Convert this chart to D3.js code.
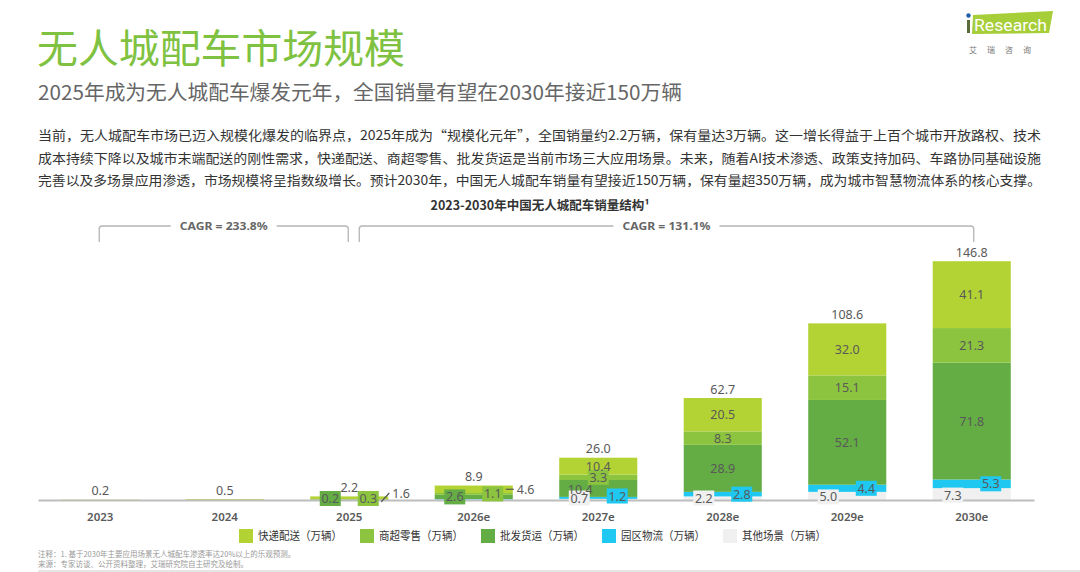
<!DOCTYPE html>
<html>
<head>
<meta charset="utf-8">
<script src="https://cdn.jsdelivr.net/npm/d3@7"></script>
<style>
  html, body { margin: 0; padding: 0; background: #fff; }
  svg { display: block; font-family: "Noto Sans CJK SC", "Noto Sans", sans-serif; }
</style>
</head>
<body>
<div id="chart"></div>
<script>
// categories and series (bottom to top of the stack)
const years = ["2023", "2024", "2025", "2026e", "2027e", "2028e", "2029e", "2030e"];
const other     = [0,   0,   0.05, 0.3, 0.7,  2.2,  5.0,  7.3];   // 其他场景
const park      = [0,   0,   0.05, 0.3, 1.2,  2.8,  4.4,  5.3];   // 园区物流
const wholesale = [0,   0,   0.2,  2.6, 10.4, 28.9, 52.1, 71.8];  // 批发货运
const retail    = [0,   0,   0.3,  1.1, 3.3,  8.3,  15.1, 21.3];  // 商超零售
const express   = [0.2, 0.5, 1.6,  4.6, 10.4, 20.5, 32.0, 41.1];  // 快递配送
const totals    = [0.2, 0.5, 2.2,  8.9, 26.0, 62.7, 108.6, 146.8];
const seriesNames = ["其他场景", "园区物流", "批发货运", "商超零售", "快递配送"];
const legendOrder = ["快递配送", "商超零售", "批发货运", "园区物流", "其他场景"];
const cagrSpans = [
  { from: "2023", to: "2025", label: "CAGR = 233.8%" },
  { from: "2025", to: "2030e", label: "CAGR = 131.1%" }
];

const colors = {
  "快递配送": "#b3d334",
  "商超零售": "#8cc43f",
  "批发货运": "#64ad45",
  "园区物流": "#1ec8f0",
  "其他场景": "#f0f0f0"
};

const paragraph = [
  "当前，无人城配车市场已迈入规模化爆发的临界点，2025年成为“规模化元年”，全国销量约2.2万辆，保有量达3万辆。这一增长得益于上百个城市开放路权、技术",
  "成本持续下降以及城市末端配送的刚性需求，快递配送、商超零售、批发货运是当前市场三大应用场景。未来，随着AI技术渗透、政策支持加码、车路协同基础设施",
  "完善以及多场景应用渗透，市场规模将呈指数级增长。预计2030年，中国无人城配车销量有望接近150万辆，保有量超350万辆，成为城市智慧物流体系的核心支撑。"
];

const W = 1080, H = 572;
const svg = d3.select("#chart").append("svg")
  .attr("width", W).attr("height", H)
  .attr("viewBox", `0 0 ${W} ${H}`);

// header
svg.append("text")
  .attr("x", 37).attr("y", 63)
  .attr("font-size", 40).attr("fill", "#7fc241")
  .attr("textLength", 368).attr("lengthAdjust", "spacingAndGlyphs")
  .text("无人城配车市场规模");

svg.append("text")
  .attr("x", 38).attr("y", 100)
  .attr("font-size", 20).attr("fill", "#666")
  .attr("textLength", 644).attr("lengthAdjust", "spacingAndGlyphs")
  .text("2025年成为无人城配车爆发元年，全国销量有望在2030年接近150万辆");

svg.append("g").selectAll("text")
  .data(paragraph)
  .join("text")
    .attr("x", 38)
    .attr("y", (d, i) => 140 + i * 22.5)
    .attr("font-size", 13).attr("fill", "#333")
    .attr("textLength", 1003).attr("lengthAdjust", "spacingAndGlyphs")
    .text(d => d);

// logo
const logo = svg.append("g");
logo.append("path")
  .attr("d", "M973,15 L1053,11 L1049,33 L972,34 Z")
  .attr("fill", "#a6ce39");
logo.append("rect").attr("x", 967).attr("y", 20).attr("width", 3).attr("height", 13).attr("fill", "#5a6b3a");
logo.append("circle").attr("cx", 968.5).attr("cy", 15.5).attr("r", 2.2).attr("fill", "#1f5fa8");
logo.append("text")
  .attr("x", 974).attr("y", 31)
  .attr("font-family", "Roboto, sans-serif").attr("font-size", 16).attr("fill", "#fff")
  .attr("textLength", 73).attr("lengthAdjust", "spacingAndGlyphs")
  .text("Research");
logo.append("text")
  .attr("x", 969).attr("y", 53)
  .attr("font-size", 8).attr("fill", "#777")
  .attr("letter-spacing", 10)
  .text("艾瑞咨询");

// chart title
svg.append("text")
  .attr("x", 540).attr("y", 210)
  .attr("text-anchor", "middle")
  .attr("font-size", 12.5).attr("font-weight", "bold").attr("fill", "#333")
  .text("2023-2030年中国无人城配车销量结构¹");

// scales
const x = d3.scaleBand()
  .domain(years)
  .range([38, 1034])
  .paddingInner(0.373)
  .paddingOuter(0.1865);
const y = d3.scaleLinear().domain([0, 150]).range([500, 256]);
const xc = d => x(d) + x.bandwidth() / 2;

// stack
const rows = years.map((yr, i) => ({
  year: yr,
  "其他场景": other[i],
  "园区物流": park[i],
  "批发货运": wholesale[i],
  "商超零售": retail[i],
  "快递配送": express[i],
  total: totals[i]
}));
const stacked = d3.stack().keys(seriesNames)(rows);

svg.append("g").selectAll("g")
  .data(stacked)
  .join("g")
    .attr("fill", d => colors[d.key])
  .selectAll("rect")
  .data(d => d)
  .join("rect")
    .attr("x", d => x(d.data.year))
    .attr("y", d => y(d[1]))
    .attr("width", x.bandwidth())
    .attr("height", d => y(d[0]) - y(d[1]));

// axis
const axis = svg.append("g")
  .attr("transform", "translate(0,500)")
  .call(d3.axisBottom(x).tickSize(0).tickPadding(13));
axis.select(".domain").attr("stroke", "#bdbdbd").attr("stroke-width", 2);
axis.selectAll("text")
  .attr("font-family", "'Noto Sans', sans-serif")
  .attr("font-size", 11.5).attr("font-weight", 600).attr("fill", "#595959");

// segment labels
const labels = [];
stacked.forEach((layer, si) => {
  layer.forEach((d, yi) => {
    const v = d[1] - d[0];
    if (yi < 2 || v <= 0) return;
    if (yi < 4 && si < 2) return;   // tiny unlabeled parts in 2025/2026
    const cx = xc(d.data.year);
    const cy = (y(d[0]) + y(d[1])) / 2;
    const key = layer.key;
    const lab = { text: v.toFixed(1), x: cx, y: cy, box: null, leader: null };
    if (key === "其他场景") { lab.x = cx - 19; lab.y = Math.min(cy + 1, 498); lab.box = colors[key]; }
    else if (key === "园区物流") { lab.x = cx + 19; lab.y = Math.min(cy, 496); lab.box = colors[key]; }
    else if (yi < 4 && key === "批发货运") { lab.x = cx - 19; lab.y = Math.min(cy, 498.5); lab.box = colors[key]; }
    else if (yi < 4 && key === "商超零售") { lab.x = cx + 19; lab.y = Math.min(cy, 498.5); lab.box = colors[key]; }
    else if (yi < 4 && key === "快递配送") {
      const right = x(d.data.year) + x.bandwidth();
      const ty = Math.min(cy, 493);
      lab.leader = [[right - 7, cy + (ty < cy ? 4 : 0)], [right + 1, ty]];
      lab.x = right + 4; lab.y = ty; lab.anchor = "start";
    }
    else if (yi === 4 && key === "批发货运") { lab.x = cx - 18; lab.y = cy + 1; }
    else if (yi === 4 && key === "商超零售") { lab.box = colors[key]; }
    labels.push(lab);
  });
});

const lg = svg.append("g");
lg.selectAll("rect")
  .data(labels.filter(d => d.box))
  .join("rect")
    .attr("x", d => d.x - 10.5)
    .attr("y", d => d.y - 7.5)
    .attr("width", 21).attr("height", 15)
    .attr("fill", d => d.box);
lg.selectAll("line")
  .data(labels.filter(d => d.leader))
  .join("line")
    .attr("x1", d => d.leader[0][0]).attr("y1", d => d.leader[0][1])
    .attr("x2", d => d.leader[1][0]).attr("y2", d => d.leader[1][1])
    .attr("stroke", "#555").attr("stroke-width", 1.2);
lg.selectAll("text")
  .data(labels)
  .join("text")
    .attr("x", d => d.x)
    .attr("y", d => d.y)
    .attr("dy", "0.36em")
    .attr("text-anchor", d => d.anchor || "middle")
    .attr("font-family", "'Noto Sans', sans-serif")
    .attr("font-size", 12.5).attr("fill", "#595959")
    .text(d => d.text);

// totals
svg.append("g").selectAll("text")
  .data(rows)
  .join("text")
    .attr("x", d => xc(d.year))
    .attr("y", d => y(d.total) - 9)
    .attr("dy", "0.36em")
    .attr("text-anchor", "middle")
    .attr("font-family", "'Noto Sans', sans-serif")
    .attr("font-size", 12.5).attr("fill", "#595959")
    .text(d => d.total.toFixed(1));

// CAGR brackets
const br = svg.append("g");
cagrSpans.forEach((c, i) => {
  const x0 = i === 0 ? xc(c.from) - 1 : xc(c.from) + 10;
  const x1 = i === 0 ? xc(c.to) - 1 : xc(c.to) + 2;
  const top = 226, bot = 242, r = 3;
  const mid = (x0 + x1) / 2;
  const half = 53;
  br.append("path")
    .attr("d", `M${x0},${bot} L${x0},${top + r} Q${x0},${top} ${x0 + r},${top} L${mid - half},${top}` +
               ` M${mid + half},${top} L${x1 - r},${top} Q${x1},${top} ${x1},${top + r} L${x1},${bot}`)
    .attr("fill", "none").attr("stroke", "#b5b5b5").attr("stroke-width", 1.3);
  br.append("text")
    .attr("x", mid).attr("y", top)
    .attr("dy", "0.36em")
    .attr("text-anchor", "middle")
    .attr("font-family", "'Noto Sans', sans-serif")
    .attr("font-size", 11).attr("font-weight", "bold").attr("fill", "#666")
    .attr("textLength", 88).attr("lengthAdjust", "spacingAndGlyphs")
    .text(c.label);
});

// legend
const legend = svg.append("g").selectAll("g")
  .data(legendOrder)
  .join("g")
    .attr("transform", (d, i) => `translate(${239 + i * 121},529)`);
legend.append("rect")
  .attr("width", 14).attr("height", 14)
  .attr("fill", d => colors[d]);
legend.append("text")
  .attr("x", 19).attr("y", 7)
  .attr("dy", "0.36em")
  .attr("font-size", 11.5).attr("fill", "#333")
  .attr("textLength", 84).attr("lengthAdjust", "spacingAndGlyphs")
  .text(d => `${d}（万辆）`);

// notes
svg.append("text")
  .attr("x", 38).attr("y", 557)
  .attr("font-size", 7.5).attr("fill", "#999")
  .text("注释：1. 基于2030年主要应用场景无人城配车渗透率达20%以上的乐观预测。");
svg.append("text")
  .attr("x", 38).attr("y", 567)
  .attr("font-size", 7.5).attr("fill", "#999")
  .text("来源：专家访谈、公开资料整理，艾瑞研究院自主研究及绘制。");
svg.append("rect")
  .attr("x", 38).attr("y", 570).attr("width", 1042).attr("height", 2)
  .attr("fill", "#e6e6e6");
</script>
</body>
</html>
